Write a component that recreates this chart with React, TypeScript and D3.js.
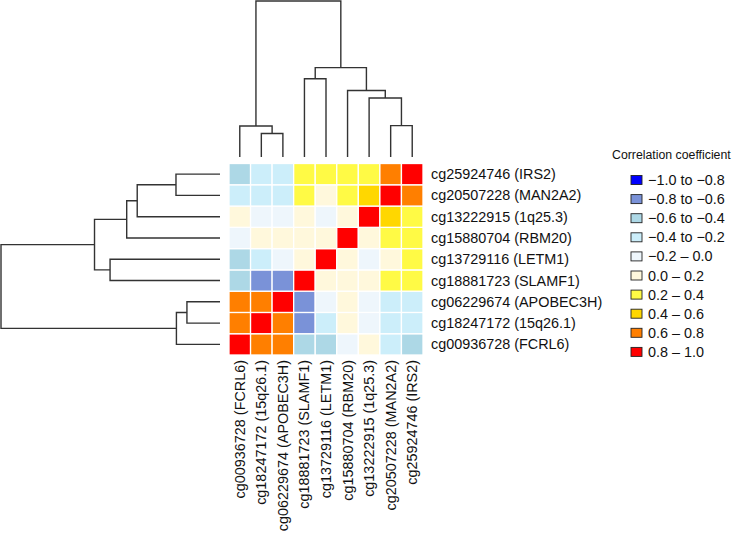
import React from "react";
import * as d3 from "d3";

// Variables in column order (left to right); rows are the reverse (top to bottom)
const labels = [
  "cg00936728 (FCRL6)",
  "cg18247172 (15q26.1)",
  "cg06229674 (APOBEC3H)",
  "cg18881723 (SLAMF1)",
  "cg13729116 (LETM1)",
  "cg15880704 (RBM20)",
  "cg13222915 (1q25.3)",
  "cg20507228 (MAN2A2)",
  "cg25924746 (IRS2)",
];

// Correlation matrix (column order)
const corr = [
  [1.0, 0.7, 0.68, -0.5, -0.45, -0.1, 0.05, -0.3, -0.42],
  [0.7, 1.0, 0.72, -0.65, -0.25, 0.08, -0.08, -0.28, -0.3],
  [0.68, 0.72, 1.0, -0.7, -0.12, 0.1, -0.05, -0.3, -0.22],
  [-0.5, -0.65, -0.7, 1.0, 0.12, 0.06, 0.15, 0.3, 0.28],
  [-0.45, -0.25, -0.12, 0.12, 1.0, 0.1, -0.06, 0.15, 0.25],
  [-0.1, 0.08, 0.1, 0.06, 0.1, 1.0, 0.18, 0.35, 0.32],
  [0.05, -0.08, -0.05, 0.15, -0.06, 0.18, 1.0, 0.45, 0.38],
  [-0.3, -0.28, -0.3, 0.3, 0.15, 0.35, 0.45, 1.0, 0.65],
  [-0.42, -0.3, -0.22, 0.28, 0.25, 0.32, 0.38, 0.65, 1.0],
];

// hclust-style merges: negative = leaf (1-based column index), positive = earlier step
const mergeLeft = [-8, -7, -6, -4, 4, -2, -1, 7];
const mergeRight = [-9, 1, 2, -5, 3, -3, 6, 5];
const mergeHeight = [0.201, 0.378, 0.426, 0.502, 0.573, 0.151, 0.199, 1.0];

// Legend
const breaks = [-0.8, -0.6, -0.4, -0.2, 0.0, 0.2, 0.4, 0.6, 0.8];
const binColors = [
  "#0000FF",
  "#7A92D8",
  "#ADD8E6",
  "#CCEEFA",
  "#EEF6FC",
  "#FFF8DC",
  "#FFFA45",
  "#FFD700",
  "#FF7F00",
  "#FF0000",
];
const legendLabels = [
  "\u22121.0 to \u22120.8",
  "\u22120.8 to \u22120.6",
  "\u22120.6 to \u22120.4",
  "\u22120.4 to \u22120.2",
  "\u22120.2 \u2013 0.0",
  "0.0 \u2013 0.2",
  "0.2 \u2013 0.4",
  "0.4 \u2013 0.6",
  "0.6 \u2013 0.8",
  "0.8 \u2013 1.0",
];
const legendTitle = "Correlation coefficient";

const FONT = "'Liberation Sans', Arial, Helvetica, sans-serif";

export default function App() {
  const W = 734,
    H = 533;
  const n = labels.length;
  const idx = d3.range(n);

  const x = d3.scaleBand<number>().domain(idx).range([229, 423]).paddingInner(0);
  // row r (top to bottom) shows variable n-1-r
  const y = d3.scaleBand<number>().domain(idx.slice().reverse()).range([163.5, 355]).paddingInner(0);
  const color = d3.scaleThreshold<number, string>().domain(breaks).range(binColors);

  // dendrogram scales
  const colH = d3.scaleLinear().domain([0, 1]).range([157, 1]);
  const rowH = d3.scaleLinear().domain([0, 1]).range([220, 1]);

  // compute node positions (in variable index units) for each merge
  const nodePos: number[] = [];
  const nodeHt: number[] = [];
  const posOf = (m: number) => (m < 0 ? -m - 1 : nodePos[m - 1]);
  const htOf = (m: number) => (m < 0 ? 0 : nodeHt[m - 1]);
  mergeLeft.forEach((l, i) => {
    const r = mergeRight[i];
    nodePos.push((posOf(l) + posOf(r)) / 2);
    nodeHt.push(mergeHeight[i]);
  });

  const bw = x.bandwidth();
  const bh = y.bandwidth();
  const cx = (p: number) => (x(0) as number) + bw / 2 + p * bw;
  const cy = (p: number) => (y(0) as number) + bh / 2 - p * bh; // variable index p -> row center

  const colPaths: string[] = [];
  const rowPaths: string[] = [];
  mergeLeft.forEach((l, i) => {
    const r = mergeRight[i];
    const h = mergeHeight[i];
    const pl = posOf(l),
      pr = posOf(r);
    const hl = htOf(l),
      hr = htOf(r);
    const pc = d3.path();
    pc.moveTo(cx(pl), colH(hl));
    pc.lineTo(cx(pl), colH(h));
    pc.lineTo(cx(pr), colH(h));
    pc.lineTo(cx(pr), colH(hr));
    colPaths.push(pc.toString());
    const pr2 = d3.path();
    pr2.moveTo(rowH(hl), cy(pl));
    pr2.lineTo(rowH(h), cy(pl));
    pr2.lineTo(rowH(h), cy(pr));
    pr2.lineTo(rowH(hr), cy(pr));
    rowPaths.push(pr2.toString());
  });

  const cells: React.ReactElement[] = [];
  idx.forEach((ri) => {
    idx.forEach((ci) => {
      cells.push(
        <rect
          key={`${ri}-${ci}`}
          x={x(ci)}
          y={y(ri)}
          width={bw}
          height={bh}
          fill={color(corr[ri][ci])}
          stroke="#ffffff"
          strokeWidth={1.3}
        />
      );
    });
  });

  const fs = 14.4;
  const legY0 = 180;
  const legStep = 19.1;

  return (
    <svg
      width={W}
      height={H}
      style={{ position: "absolute", left: 0, top: 0, background: "#fff" }}
      fontFamily={FONT}
    >
      <rect x={0} y={0} width={W} height={H} fill="#fff" />
      <g fill="none" stroke="#333" strokeWidth={1.4}>
        {colPaths.map((d, i) => (
          <path key={"c" + i} d={d} />
        ))}
        {rowPaths.map((d, i) => (
          <path key={"r" + i} d={d} />
        ))}
      </g>
      <g>{cells}</g>
      <g fontSize={fs} fill="#111">
        {idx.map((v) => (
          <text key={"rl" + v} x={431} y={(y(v) as number) + bh / 2} dominantBaseline="central">
            {labels[v]}
          </text>
        ))}
        {idx.map((v) => (
          <text
            key={"cl" + v}
            transform={`translate(${(x(v) as number) + bw / 2},360) rotate(-90)`}
            textAnchor="end"
            dominantBaseline="central"
          >
            {labels[v]}
          </text>
        ))}
      </g>
      <g>
        <text x={612} y={155} fontSize={12.3} dominantBaseline="central" fill="#111">
          {legendTitle}
        </text>
        {binColors.map((c, i) => (
          <g key={"lg" + i}>
            <rect
              x={631}
              y={legY0 + i * legStep - 4.5}
              width={11}
              height={9}
              fill={c}
              stroke="#222"
              strokeWidth={0.9}
            />
            <text
              x={648}
              y={legY0 + i * legStep}
              fontSize={fs}
              dominantBaseline="central"
              fill="#111"
            >
              {legendLabels[i]}
            </text>
          </g>
        ))}
      </g>
    </svg>
  );
}
